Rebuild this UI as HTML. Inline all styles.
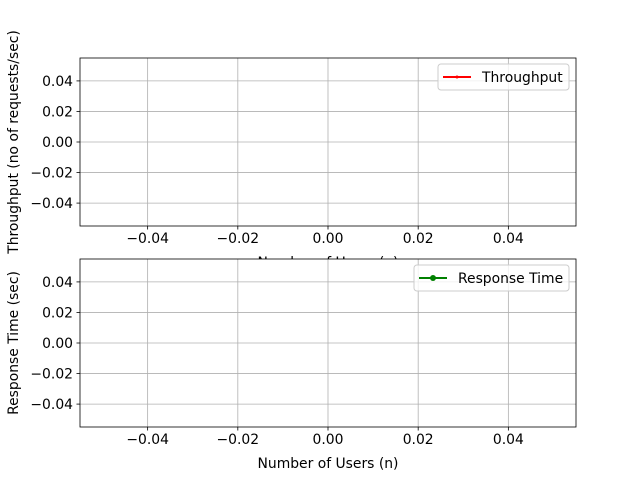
<!DOCTYPE html>
<html><head><meta charset="utf-8"><style>
body{margin:0;background:#fff}
svg{display:block;font-family:"DejaVu Sans","Liberation Sans",sans-serif}
</style></head><body>
<svg id="chart" width="640" height="480" viewBox="0 0 640 480"></svg>
<script>
const users = [];
const throughput = [];
const responseTime = [];
const xTicks = [-0.04, -0.02, 0.00, 0.02, 0.04];
const yTicks = [0.04, 0.02, 0.00, -0.02, -0.04];
const xTickLabels = ["−0.04", "−0.02", "0.00", "0.02", "0.04"];
const yTickLabels = ["0.04", "0.02", "0.00", "−0.02", "−0.04"];

const NS = "http://www.w3.org/2000/svg";
const svg = document.getElementById("chart");
function mk(tag, attrs, parent) {
  const e = document.createElementNS(NS, tag);
  for (const k in attrs) e.setAttribute(k, attrs[k]);
  (parent || svg).appendChild(e);
  return e;
}
const L = 80, R = 576, xMin = -0.055, xMax = 0.055;
const xs = v => L + (v - xMin) / (xMax - xMin) * (R - L);

function panel(top, bottom, yLabel, series, color, legendName, legendX, legendW, name, marker) {
  const ys = v => bottom - (v + 0.055) / 0.11 * (bottom - top);
  const g = mk("g", {});
  
  
  const bg = mk("rect", {x: L, y: top, width: R - L, height: bottom - top, fill: "#fff"}, g);
  
  
  xTicks.forEach((t, i) => {
    const x = xs(t);
    mk("line", {x1: x, x2: x, y1: top, y2: bottom, stroke: "#b0b0b0", "stroke-width": 0.8}, g);
    mk("line", {x1: x, x2: x, y1: bottom, y2: bottom + 3.5, stroke: "#000", "stroke-width": 0.8}, g);
    const tx = mk("text", {x: x, y: bottom + 17, "text-anchor": "middle", "font-size": 13.9}, g);
    tx.textContent = xTickLabels[i];
    
    
  });
  yTicks.forEach((t, i) => {
    const y = ys(t);
    mk("line", {x1: L, x2: R, y1: y, y2: y, stroke: "#b0b0b0", "stroke-width": 0.8}, g);
    mk("line", {x1: L - 3.5, x2: L, y1: y, y2: y, stroke: "#000", "stroke-width": 0.8}, g);
    const tx = mk("text", {x: L - 7, y: y + 5, "text-anchor": "end", "font-size": 13.9}, g);
    tx.textContent = yTickLabels[i];
    
    
  });
  if (series.length) {
    const pts = series.map((v, i) => xs(users[i]) + "," + ys(v)).join(" ");
    const pl = mk("polyline", {points: pts, fill: "none", stroke: color, "stroke-width": 2}, g);
    
    
  }
  mk("rect", {x: L, y: top, width: R - L, height: bottom - top, fill: "none", stroke: "#000", "stroke-width": 0.8}, g);
  const yl = mk("text", {x: 0, y: 0, "text-anchor": "middle", "font-size": 13.9, transform: `translate(18,${(top + bottom) / 2}) rotate(-90)`}, g);
  yl.textContent = yLabel;
  
  
  const xl = mk("text", {x: 328, y: bottom + 41, "text-anchor": "middle", "font-size": 13.9}, g);
  xl.textContent = "Number of Users (n)";
  
  
  // legend
  const lg = mk("g", {}, g);
  
  
  const ly = top + 6;
  mk("rect", {x: legendX, y: ly, width: legendW, height: 26, rx: 3, fill: "#fff", "fill-opacity": 0.8, stroke: "#ccc"}, lg);
  mk("line", {x1: legendX + 5, x2: legendX + 33, y1: ly + 13, y2: ly + 13, stroke: color, "stroke-width": 2}, lg);
  mk("circle", {cx: legendX + 19, cy: ly + 13, r: marker, fill: color}, lg);
  const lt = mk("text", {x: legendX + 44, y: ly + 18, "font-size": 13.9}, lg);
  lt.textContent = legendName;
  
  
}
panel(58, 226, "Throughput (no of requests/sec)", throughput, "#ff0000", "Throughput", 438, 131, "throughput", 1.5);
panel(259, 427, "Response Time (sec)", responseTime, "#008000", "Response Time", 414, 155, "response-time", 3);
</script>
</body></html>
